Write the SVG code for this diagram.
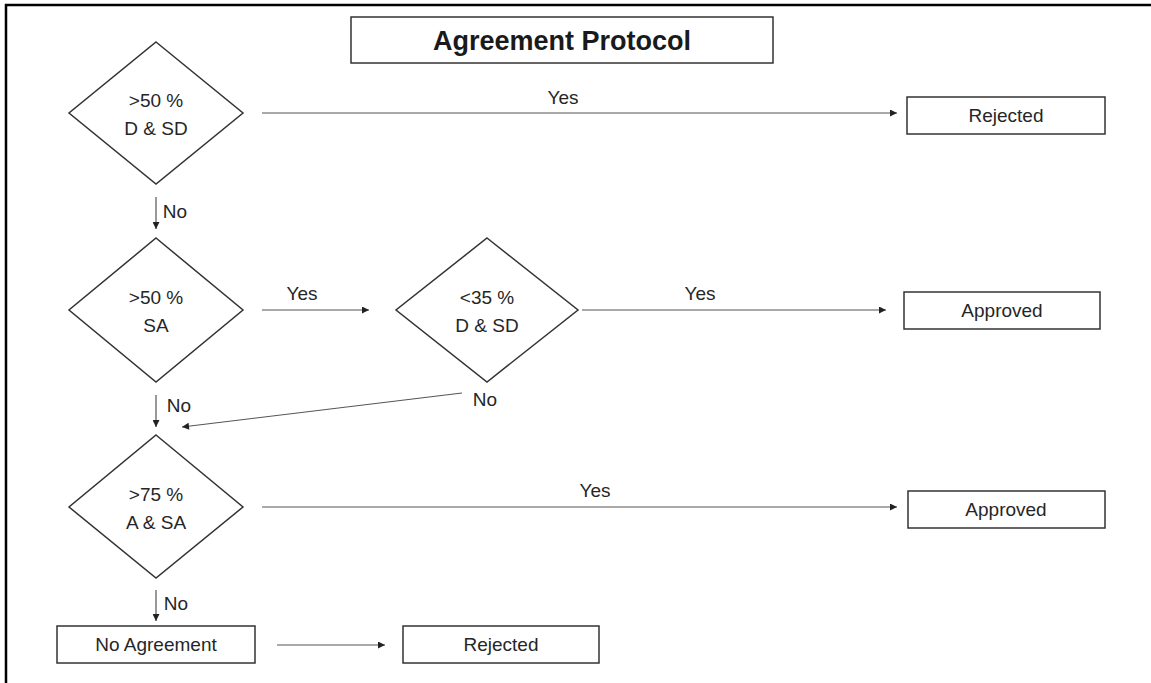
<svg xmlns="http://www.w3.org/2000/svg" width="1151" height="683" viewBox="0 0 1151 683">
<style>
.box{fill:#fff;stroke:#333;stroke-width:1.5}
.dia{fill:#fff;stroke:#333;stroke-width:1.5}
.t{font-family:"Liberation Sans",Arial,sans-serif;font-size:19px;fill:#262626;text-anchor:middle}
.title{font-family:"Liberation Sans",Arial,sans-serif;font-size:27px;font-weight:bold;fill:#1a1a1a;text-anchor:middle}
.c{stroke:#555;stroke-width:1.2;fill:none;marker-end:url(#ah)}
</style>
<defs>
<marker id="ah" viewBox="0 0 10 10" refX="10" refY="5" markerWidth="8" markerHeight="7" markerUnits="userSpaceOnUse" orient="auto">
<path d="M0,0 L10,5 L0,10 z" fill="#222"/>
</marker>
</defs>
<rect width="1151" height="683" fill="#fff"/>
<path d="M6,683 V5 H1151" fill="none" stroke="#000" stroke-width="2.5"/>
<g id="title"><rect class="box" x="351" y="17" width="422" height="46"/><text class="title" x="562" y="50">Agreement Protocol</text></g>
<g id="d1"><polygon class="dia" points="156,42 243,113 156,184 69,113"/><text class="t" x="156" y="107">&gt;50 %</text><text class="t" x="156" y="135">D &amp; SD</text></g>
<g id="r1"><rect class="box" x="907" y="97" width="198" height="37"/><text class="t" x="1006" y="122">Rejected</text></g>
<g id="d2"><polygon class="dia" points="156,238 243,310 156,382 69,310"/><text class="t" x="156" y="304">&gt;50 %</text><text class="t" x="156" y="332">SA</text></g>
<g id="d3"><polygon class="dia" points="487,238 578,310 487,382 396,310"/><text class="t" x="487" y="304">&lt;35 %</text><text class="t" x="487" y="332">D &amp; SD</text></g>
<g id="a1"><rect class="box" x="904" y="292" width="196" height="37"/><text class="t" x="1002" y="317">Approved</text></g>
<g id="d4"><polygon class="dia" points="156,435 243,507 156,578 69,507"/><text class="t" x="156" y="501">&gt;75 %</text><text class="t" x="156" y="529">A &amp; SA</text></g>
<g id="a2"><rect class="box" x="908" y="491" width="197" height="37"/><text class="t" x="1006" y="516">Approved</text></g>
<g id="na"><rect class="box" x="57" y="626" width="198" height="37"/><text class="t" x="156" y="651">No Agreement</text></g>
<g id="r2"><rect class="box" x="403" y="626" width="196" height="37"/><text class="t" x="501" y="651">Rejected</text></g>
<g id="connectors">
<line class="c" x1="262" y1="113" x2="897" y2="113"/>
<text class="t" x="563" y="104">Yes</text>
<line class="c" x1="156" y1="197" x2="156" y2="229"/>
<text class="t" x="175" y="218">No</text>
<line class="c" x1="262" y1="310" x2="369" y2="310"/>
<text class="t" x="302" y="300">Yes</text>
<line class="c" x1="582" y1="310" x2="886" y2="310"/>
<text class="t" x="700" y="300">Yes</text>
<line class="c" x1="156" y1="395" x2="156" y2="427"/>
<text class="t" x="179" y="412">No</text>
<line class="c" x1="462" y1="393" x2="182" y2="427"/>
<text class="t" x="485" y="406">No</text>
<line class="c" x1="262" y1="507" x2="897" y2="507"/>
<text class="t" x="595" y="497">Yes</text>
<line class="c" x1="156" y1="590" x2="156" y2="621"/>
<text class="t" x="176" y="610">No</text>
<line class="c" x1="277" y1="645" x2="385" y2="645"/>
</g>
</svg>
